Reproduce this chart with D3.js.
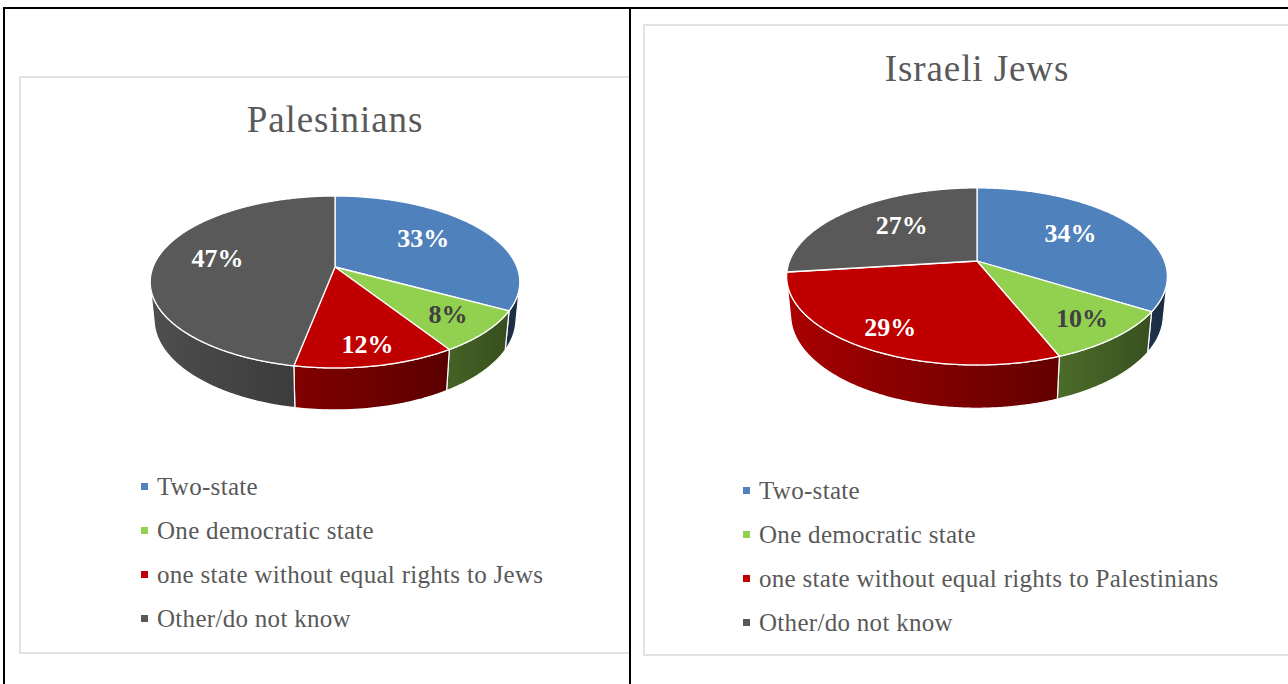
<!DOCTYPE html>
<html>
<head>
<meta charset="utf-8">
<script src="https://cdn.jsdelivr.net/npm/d3@7"></script>
<style>
  body { margin: 0; background: #fff; }
  svg { display: block; }
</style>
</head>
<body>
<script>
// chart data
const titles = ["Palesinians", "Israeli Jews"];
const palCategories = ["Two-state", "One democratic state", "one state without equal rights to Jews", "Other/do not know"];
const isrCategories = ["Two-state", "One democratic state", "one state without equal rights to Palestinians", "Other/do not know"];
const palValues = [33, 8, 12, 47];
const isrValues = [34, 10, 29, 27];
const colors = ["#4F81BD", "#92D050", "#C00000", "#595959"];
const labelColors = ["#ffffff", "#404040", "#ffffff", "#ffffff"];

const W = 1288, H = 684;
const font = "'Liberation Serif', 'Times New Roman', serif";

const svg = d3.select("body").append("svg")
    .attr("width", W)
    .attr("height", H);
const defs = svg.append("defs");

// chart frames
const panels = [
  { box: [20, 77, 610, 576], title: [335, 132], cx: 335, cy: 267, f: 928,
    legend: [141, 495], values: palValues, cats: palCategories },
  { box: [644, 25, 680, 630], title: [977, 81], cx: 977, cy: 261, f: 956,
    legend: [743, 499], values: isrValues, cats: isrCategories }
];

// simple perspective camera for the 3d pie
const D = 5.1, sinP = 0.458, cosP = 0.889, depthH = 0.233;
const silA = Math.acos(-1 / (D * cosP));      // first visible side angle
const silB = 2 * Math.PI - silA;

const pie = d3.pie().sort(null).value(d => d);

panels.forEach((p, pi) => {
  const g = svg.append("g");

  g.append("rect")
    .attr("x", p.box[0]).attr("y", p.box[1])
    .attr("width", p.box[2]).attr("height", p.box[3])
    .attr("fill", "#fff")
    .attr("stroke", "#d9d9d9")
    .attr("stroke-width", 1.5);

  g.append("text")
    .attr("x", p.title[0]).attr("y", p.title[1])
    .attr("text-anchor", "middle")
    .attr("font-family", font)
    .attr("font-size", 37)
    .attr("letter-spacing", 0.9)
    .attr("fill", "#595959")
    .text(titles[pi]);

  const proj = (a, yw, r = 1) => {
    const X = r * Math.sin(a), Z = r * Math.cos(a), Y = yw;
    const up = Z * sinP + Y * cosP;
    const dep = D + Z * cosP - Y * sinP;
    return [p.cx + p.f * X / dep, p.cy - p.f * up / dep];
  };
  const rim = (a0, a1, yw) => {
    const n = Math.max(2, Math.ceil((a1 - a0) / 0.01));
    return d3.range(n + 1).map(i => proj(a0 + (a1 - a0) * i / n, yw));
  };
  const line = d3.line();
  const arcs = pie(p.values);

  // sides (front half only)
  arcs.forEach((d, i) => {
    const a0 = Math.max(d.startAngle, silA), a1 = Math.min(d.endAngle, silB);
    if (a0 >= a1) return;
    const top = rim(a0, a1, 0);
    const bot = rim(a0, a1, -depthH).reverse();
    const xs = top.concat(bot).map(q => q[0]);
    const xmin = d3.min(xs), xmax = d3.max(xs);
    const id = `side-${pi}-${i}`;
    const base = d3.rgb(colors[i]);
    const grad = defs.append("linearGradient")
      .attr("id", id)
      .attr("gradientUnits", "userSpaceOnUse")
      .attr("x1", xmin).attr("x2", xmax)
      .attr("y1", 0).attr("y2", 0);
    const stops = d3.range(9).map(k => {
      const a = a0 + (a1 - a0) * k / 8;
      const x = proj(a, -depthH / 2)[0];
      const s = 0.62 - 0.28 * Math.sin(a);
      return { off: (x - xmin) / Math.max(1, xmax - xmin),
               col: d3.rgb(base.r * s, base.g * s, base.b * s).formatHex() };
    }).sort((u, v) => u.off - v.off);
    stops.forEach(s => grad.append("stop")
      .attr("offset", Math.max(0, Math.min(1, s.off)))
      .attr("stop-color", s.col));

    g.append("path")
      .attr("d", line(top.concat(bot)) + "Z")
      .attr("fill", `url(#${id})`)
      .attr("stroke", "#fff")
      .attr("stroke-width", 1.2)
      .attr("stroke-linejoin", "round");
  });

  // top faces
  arcs.forEach((d, i) => {
    const pts = [proj(0, 0, 0)].concat(rim(d.startAngle, d.endAngle, 0));
    g.append("path")
      .attr("d", line(pts) + "Z")
      .attr("fill", colors[i])
      .attr("stroke", "#fff")
      .attr("stroke-width", 1.3)
      .attr("stroke-linejoin", "round");
  });

  // data labels
  arcs.forEach((d, i) => {
    const mid = (d.startAngle + d.endAngle) / 2;
    const r = 0.67 - 0.15 * Math.cos(mid);
    const [x, y] = proj(mid, 0, r);
    g.append("text")
      .attr("x", x).attr("y", y - 3 - 3 * Math.cos(mid))
      .attr("text-anchor", "middle")
      .attr("dominant-baseline", "central")
      .attr("font-family", font)
      .attr("font-weight", "bold")
      .attr("font-size", 26)
      .attr("fill", labelColors[i])
      .text(d.data + "%");
  });

  // legend
  const leg = g.selectAll(".leg")
    .data(p.cats)
    .join("g")
    .attr("transform", (d, i) => `translate(${p.legend[0]},${p.legend[1] + i * 44})`);
  leg.append("rect")
    .attr("x", 0).attr("y", -12)
    .attr("width", 7).attr("height", 7)
    .attr("fill", (d, i) => colors[i]);
  leg.append("text")
    .attr("x", 16).attr("y", 0)
    .attr("font-family", font)
    .attr("font-size", 25)
    .attr("letter-spacing", 0.3)
    .attr("fill", "#595959")
    .text(d => d);
});

// table borders
const border = svg.append("g").attr("stroke", "#000").attr("stroke-width", 2);
border.append("line").attr("x1", 3).attr("x2", W).attr("y1", 8).attr("y2", 8);
border.append("line").attr("x1", 4).attr("x2", 4).attr("y1", 7).attr("y2", H);
border.append("line").attr("x1", 630).attr("x2", 630).attr("y1", 7).attr("y2", H);
</script>
</body>
</html>
